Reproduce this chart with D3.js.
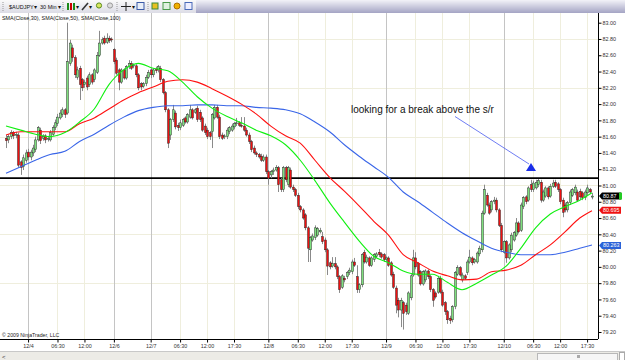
<!DOCTYPE html>
<html>
<head>
<meta charset="utf-8">
<script src="https://cdn.jsdelivr.net/npm/d3@7"></script>
<style>
  html, body { margin: 0; padding: 0; background: #fff; }
  svg { display: block; font-family: "Liberation Sans", Arial, sans-serif; }
</style>
</head>
<body>
<main></main>
<script>
//AUDJPY 30 min candles, 12/3 evening to 12/10 evening (bar index 0..239)
const opens = [81.58,81.56,81.60,81.65,81.62,81.62,81.29,81.23,81.31,81.41, 81.35,81.40,81.44,81.56,81.68,81.58,81.61,81.57,81.56,81.63,
  81.71,81.76,81.83,81.87,81.93,81.89,82.50,82.69,82.57,82.33, 82.44,82.30,82.24,82.32,82.24,82.36,82.30,82.39,82.60,82.75,
  82.81,82.76,82.81,82.80,82.67,82.54,82.42,82.27,82.42,82.32, 82.46,82.50,82.47,82.47,82.36,82.25,82.22,82.25,82.33,82.42,
  82.36,82.43,82.42,82.44,82.30,82.14,81.93,81.62,81.81,81.89, 81.74,81.71,81.74,81.83,81.78,81.84,81.93,81.90,81.95,81.90,
  81.83,81.73,81.68,81.65,81.66,81.83,81.96,81.84,81.62,81.60, 81.60,81.66,81.68,81.72,81.76,81.77,81.74,81.73,81.68,81.62,
  81.54,81.46,81.40,81.38,81.36,81.31,81.35,81.17,81.13,81.17, 81.19,81.22,81.07,80.95,81.22,81.01,81.19,80.98,80.95,80.88,
  80.74,80.70,80.64,80.48,80.21,80.33,80.36,80.39,80.43,80.37, 80.33,80.21,80.05,80.01,80.04,80.00,79.88,79.75,79.86,79.88,
  79.93,79.94,80.06,79.88,79.72,79.78,80.18,80.06,80.11,80.02, 80.09,80.13,80.18,80.16,80.15,80.09,80.11,80.05,79.91,79.74,
  79.59,79.47,79.56,79.53,79.43,79.62,79.90,80.11,80.04,79.94, 79.79,79.84,79.95,79.88,79.72,79.68,79.69,79.86,79.69,79.56,
  79.45,79.37,79.35,79.51,79.91,79.99,79.84,79.89,79.93,80.06, 80.11,80.06,80.06,80.16,80.21,80.66,80.88,80.76,80.70,80.80,
  80.82,80.70,80.51,80.18,80.31,80.11,80.21,80.33,80.39,80.54, 80.45,80.74,80.86,80.82,81.01,80.95,80.97,81.01,81.04,80.82,
  80.87,80.97,80.87,80.99,81.04,81.02,80.95,80.82,80.76,80.70, 80.79,80.88,80.91,80.92,80.93,80.91,80.85,80.91,80.95,80.86];

const closes = [81.55,81.60,81.65,81.61,81.63,81.25,81.22,81.34,81.40,81.35, 81.41,81.46,81.56,81.71,81.55,81.60,81.56,81.58,81.65,81.71,
  81.77,81.84,81.89,81.93,81.87,82.52,82.75,82.57,82.36,82.42, 82.24,82.20,82.27,82.21,82.36,82.27,82.42,82.60,82.75,82.79,
  82.75,82.81,82.78,82.79,82.52,82.38,82.27,82.42,82.32,82.46, 82.50,82.44,82.48,82.36,82.20,82.21,82.25,82.33,82.39,82.36,
  82.42,82.41,82.46,82.30,82.14,81.93,81.52,81.81,81.93,81.72, 81.71,81.77,81.81,81.78,81.87,81.93,81.83,81.93,81.81,81.81,
  81.68,81.65,81.60,81.60,81.87,81.96,81.84,81.60,81.58,81.61, 81.68,81.71,81.73,81.76,81.77,81.74,81.73,81.68,81.62,81.54,
  81.44,81.40,81.38,81.35,81.31,81.35,81.17,81.09,81.17,81.19, 81.22,81.01,80.95,81.22,81.07,81.22,80.98,80.95,80.88,80.74,
  80.70,80.60,80.48,80.23,80.36,80.38,80.48,80.47,80.45,80.31, 80.21,80.01,80.00,80.04,80.00,79.88,79.72,79.89,79.84,79.93,
  79.96,80.06,80.02,79.72,79.78,80.15,80.06,80.12,80.02,80.11, 80.15,80.16,80.15,80.12,80.09,80.11,80.02,79.90,79.75,79.53,
  79.47,79.59,79.43,79.45,79.68,79.89,80.11,80.00,79.90,79.79, 79.94,79.95,79.88,79.72,79.59,79.63,79.86,79.69,79.53,79.45,
  79.35,79.34,79.51,79.93,79.99,79.90,79.90,79.86,80.06,80.12, 80.05,80.09,80.17,80.23,80.66,80.95,80.76,80.66,80.80,80.82,
  80.70,80.51,80.21,80.31,80.11,80.27,80.39,80.42,80.54,80.43, 80.76,80.85,80.80,80.97,80.95,81.03,81.04,81.06,80.82,80.92,
  80.97,80.86,80.99,81.03,80.99,80.95,80.80,80.67,80.70,80.79, 80.92,80.95,80.98,80.82,80.86,80.85,80.92,80.97,80.92,80.87];

const highs = [81.62,81.63,81.68,81.67,81.66,81.65,81.31,81.38,81.44,81.45, 81.44,81.50,81.60,81.73,81.71,81.63,81.63,81.61,81.68,81.74,
  81.81,81.88,81.93,81.96,81.95,83.00,82.79,82.73,82.60,82.46, 82.47,82.32,82.30,82.35,82.39,82.38,82.44,82.64,82.90,82.82,
  82.84,82.87,82.84,82.82,82.69,82.57,82.44,82.44,82.44,82.48, 82.54,82.53,82.50,82.49,82.38,82.27,82.27,82.36,82.42,82.44,
  82.44,82.46,82.48,82.47,82.32,82.16,81.95,81.83,81.99,81.92, 81.77,81.81,81.83,81.85,81.89,81.99,81.95,81.95,81.98,81.93,
  81.85,81.76,81.71,81.67,81.89,81.99,81.99,81.87,81.65,81.63, 81.71,81.73,81.76,81.78,81.83,81.79,81.84,81.84,81.71,81.65,
  81.56,81.49,81.42,81.40,81.39,81.38,81.38,81.19,81.19,81.22, 81.25,81.24,81.09,81.24,81.24,81.24,81.22,81.01,80.97,80.91,
  80.76,80.72,80.66,80.50,80.38,80.41,80.51,80.49,80.48,80.43, 80.36,80.23,80.07,80.12,80.12,80.02,79.90,79.91,79.89,79.95,
  79.99,80.09,80.11,80.02,79.80,80.17,80.21,80.15,80.13,80.13, 80.17,80.18,80.22,80.18,80.17,80.13,80.13,80.07,79.94,79.77,
  79.62,79.62,79.58,79.56,79.70,79.91,80.21,80.18,80.06,79.96, 79.96,79.97,79.97,79.90,79.74,79.70,79.89,79.89,79.72,79.58,
  79.47,79.40,79.53,79.95,80.02,80.01,79.93,79.91,80.09,80.21, 80.13,80.11,80.19,80.26,80.69,81.01,80.91,80.79,80.82,80.86,
  80.85,80.72,80.54,80.33,80.33,80.29,80.42,80.44,80.60,80.56, 80.79,80.87,80.88,80.99,81.07,81.06,81.07,81.08,81.07,80.95,
  80.99,80.99,81.02,81.07,81.07,81.04,80.97,80.85,80.79,80.81, 80.95,80.97,81.01,80.95,80.96,80.93,80.95,81.01,80.97,80.91];

const lows = [81.46,81.52,81.57,81.57,81.58,81.22,81.13,81.19,81.28,81.31, 81.31,81.36,81.41,81.54,81.51,81.55,81.52,81.54,81.54,81.61,
  81.68,81.73,81.81,81.84,81.83,81.87,82.47,82.52,82.32,82.30, 82.05,82.16,82.20,82.17,82.21,82.24,82.27,82.37,82.58,82.73,
  82.73,82.74,82.75,82.76,82.49,82.36,82.17,82.25,82.30,82.30, 82.43,82.42,82.44,82.33,82.17,82.17,82.20,82.22,82.31,82.32,
  82.33,82.38,82.39,82.27,82.12,81.90,81.46,81.56,81.78,81.69, 81.67,81.68,81.72,81.76,81.76,81.82,81.81,81.88,81.78,81.78,
  81.66,81.62,81.57,81.56,81.46,81.81,81.82,81.57,81.56,81.57, 81.57,81.63,81.66,81.69,81.73,81.72,81.71,81.66,81.60,81.51,
  81.41,81.38,81.35,81.33,81.29,81.29,81.14,81.01,81.09,81.13, 81.17,80.92,80.92,80.92,81.04,80.98,80.96,80.92,80.86,80.71,
  80.67,80.58,80.45,80.06,80.06,80.31,80.33,80.37,80.41,80.28, 80.18,79.90,79.97,79.99,79.97,79.85,79.68,79.73,79.81,79.85,
  79.90,79.91,80.00,79.68,79.68,79.75,80.04,80.04,80.00,80.00, 80.06,80.11,80.12,80.10,80.06,80.06,80.00,79.88,79.73,79.43,
  79.38,79.26,79.23,79.41,79.41,79.59,79.88,79.97,79.88,79.77, 79.77,79.81,79.85,79.69,79.51,79.61,79.67,79.67,79.51,79.41,
  79.30,79.30,79.32,79.48,79.89,79.88,79.81,79.84,79.90,80.04, 80.02,80.04,80.04,80.13,80.18,80.64,80.74,80.64,80.67,80.77,
  80.67,80.49,80.18,80.16,80.05,80.09,80.18,80.31,80.37,80.41, 80.43,80.71,80.77,80.80,80.92,80.92,80.95,80.98,80.79,80.80,
  80.85,80.83,80.85,80.97,80.97,80.92,80.77,80.61,80.67,80.67, 80.76,80.86,80.88,80.80,80.83,80.82,80.82,80.88,80.90,80.83];

//SMA readings, one every 6 bars plus the last bar
const smaIdx = [0,6,12,18,24,30,36,42,48,54, 60,66,72,78,84,90,96,102,108,114,
  120,126,132,138,144,150,156,162,168,174, 180,186,192,198,204,210,216,222,228,234, 239];
const sma30 = [81.73,81.68,81.63,81.60,81.65,81.78,81.94,82.24,82.42,82.50, 82.44,82.41,82.27,82.09,81.95,81.85,81.77,81.68,81.61,81.50,
  81.31,81.06,80.79,80.55,80.32,80.13,80.05,79.95,79.91,79.91, 79.81,79.72,79.80,79.90,80.01,80.23,80.48,80.65,80.74,80.82, 80.91];
const sma50 = [81.62,81.66,81.66,81.66,81.66,81.76,81.83,81.94,82.05,82.14, 82.21,82.28,82.30,82.27,82.19,82.10,82.00,81.88,81.73,81.61,
  81.52,81.31,81.10,80.93,80.75,80.56,80.39,80.15,80.05,79.95, 79.89,79.84,79.85,79.94,79.96,80.02,80.15,80.27,80.43,80.60, 80.69];
const sma100 = [81.15,81.23,81.31,81.38,81.42,81.54,81.63,81.74,81.84,81.92, 81.96,81.98,81.98,81.99,81.99,81.98,81.98,81.96,81.95,81.93,
  81.88,81.78,81.66,81.50,81.36,81.23,81.10,80.92,80.80,80.67, 80.54,80.42,80.32,80.23,80.18,80.15,80.15,80.15,80.18,80.23, 80.27];

//Axis ticks
const priceTicks = [83.00,82.80,82.60,82.40,82.20,82.00,81.80,81.60,81.40,81.20,81.00,80.80,80.60,80.40,80.20,80.00,79.80,79.60,79.40,79.20];
const gridPrices = [82.80,82.20,81.60,81.00,80.40,79.80];
const timeIdx = [9,21,32,44,59,71,82,93,107,119,130,141,155,167,178,189,203,215,226,237];
const timeLabels = ["12/4","06:30","12:00","12/6","12/7","06:30","12:00","17:30","12/8","06:30","12:00","17:30","12/9","06:30","12:00","17:30","12/10","06:30","12:00","17:30"];

//Support / resistance and last values
const srLevel = 81.09;
const markerValues = [80.87, 80.695, 80.263];
const markerLabels = ["80.87", "80.695", "80.263"];
const markerColors = ["#000000", "#ee1111", "#2a62d8"];

document.addEventListener('DOMContentLoaded', function(){

    //Parameters
    const w = 625;
    const h = 360;
    const plotRight = 598;
    const plotTop = 13;
    const plotBottom = 339;

    const svg = d3.select("main")
        .append("svg")
        .attr("width", w)
        .attr("height", h);

    //Scales
    const x = d3.scaleLinear().domain([0, closes.length - 1]).range([6, 592]);
    const y = d3.scaleLinear().domain([79.20, 83.00]).range([332, 22.7]);

    //Toolbar
    const defs = svg.append("defs");
    const tb = defs.append("linearGradient").attr("id", "tb").attr("x1", 0).attr("y1", 0).attr("x2", 0).attr("y2", 1);
    tb.append("stop").attr("offset", "0%").attr("stop-color", "#fafafa");
    tb.append("stop").attr("offset", "100%").attr("stop-color", "#dcdce6");
    const tb2 = defs.append("linearGradient").attr("id", "tb2").attr("x1", 0).attr("y1", 0).attr("x2", 0).attr("y2", 1);
    tb2.append("stop").attr("offset", "0%").attr("stop-color", "#f2f2f8");
    tb2.append("stop").attr("offset", "100%").attr("stop-color", "#a4a4c4");

    svg.append("rect").attr("x", 0).attr("y", 0).attr("width", w).attr("height", plotTop).attr("fill", "url(#tb2)");
    svg.append("rect").attr("x", 0).attr("y", 0).attr("width", 196).attr("height", plotTop).attr("fill", "url(#tb)");

    const bar = svg.append("g").attr("font-size", 5.5).attr("fill", "#111");
    bar.append("text").attr("x", 9).attr("y", 8.5).text("$AUDJPY");
    bar.append("text").attr("x", 34).attr("y", 8.5).text("▾");
    bar.append("text").attr("x", 40).attr("y", 8.5).text("30 Min");
    bar.append("text").attr("x", 58).attr("y", 8.5).text("▾");
    [3, 63, 117, 148].forEach(sx => {
        bar.append("line").attr("x1", sx).attr("x2", sx).attr("y1", 2).attr("y2", 11)
           .attr("stroke", "#999").attr("stroke-dasharray", "1,1");
    });
    //bar chart icon
    [[67, "#1a8a1a"], [70, "#c00"], [73, "#1a8a1a"]].forEach(b => {
        bar.append("rect").attr("x", b[0]).attr("y", 3).attr("width", 2).attr("height", 7).attr("fill", b[1]);
    });
    bar.append("text").attr("x", 76).attr("y", 8.5).text("▾");
    //pencil
    bar.append("line").attr("x1", 82).attr("y1", 10).attr("x2", 88).attr("y2", 3).attr("stroke", "#333").attr("stroke-width", 1.6);
    bar.append("text").attr("x", 89).attr("y", 8.5).text("▾");
    //zoom
    bar.append("circle").attr("cx", 99).attr("cy", 5.5).attr("r", 2.6).attr("fill", "#d8e860").attr("stroke", "#5a8a20");
    bar.append("circle").attr("cx", 110).attr("cy", 5.5).attr("r", 2.6).attr("fill", "#ddd").attr("stroke", "#999");
    //crosshair
    bar.append("path").attr("d", "M121,6.5H131M126,2V11").attr("stroke", "#222");
    bar.append("text").attr("x", 132).attr("y", 8.5).text("▾");
    bar.append("rect").attr("x", 137).attr("y", 2.5).attr("width", 7).attr("height", 7).attr("fill", "#e8eef8").attr("stroke", "#3a5aa8");
    bar.append("rect").attr("x", 152).attr("y", 3).attr("width", 6).attr("height", 6).attr("fill", "#e8c020").attr("stroke", "#3a8a3a");
    bar.append("rect").attr("x", 163).attr("y", 2.5).attr("width", 7).attr("height", 7).attr("fill", "#dff0df").attr("stroke", "#4a9a4a");
    bar.append("circle").attr("cx", 177).attr("cy", 6).attr("r", 3).attr("fill", "#f0b000").attr("stroke", "#b07000");
    bar.append("rect").attr("x", 185).attr("y", 2.5).attr("width", 7).attr("height", 7).attr("fill", "#eef").attr("stroke", "#4a6ab8");

    //Chart background
    svg.append("rect").attr("x", 0).attr("y", plotTop).attr("width", w).attr("height", h - plotTop).attr("fill", "#fff");

    //Grid
    const grid = svg.append("g");
    grid.selectAll("line.hg")
        .data(gridPrices)
        .enter()
        .append("line")
        .attr("x1", 0).attr("x2", plotRight)
        .attr("y1", d => Math.round(y(d)) + 0.5).attr("y2", d => Math.round(y(d)) + 0.5)
        .attr("stroke", "#efeedd");
    grid.selectAll("line.vg")
        .data(timeIdx)
        .enter()
        .append("line")
        .attr("x1", d => Math.round(x(d)) + 0.5).attr("x2", d => Math.round(x(d)) + 0.5)
        .attr("y1", plotTop).attr("y2", plotBottom)
        .attr("stroke", (d, i) => timeLabels[i].includes("/") ? "#c4c4c4" : "#efeedd");

    //Support / resistance line
    svg.append("line")
       .attr("x1", 0).attr("x2", plotRight)
       .attr("y1", y(srLevel)).attr("y2", y(srLevel))
       .attr("stroke", "#000").attr("stroke-width", 1.8);

    //Candles
    const bars = d3.range(closes.length);
    const candles = svg.append("g");
    candles.selectAll("line.wick")
        .data(bars)
        .enter()
        .append("line")
        .attr("x1", i => Math.round(x(i)) + 0.5).attr("x2", i => Math.round(x(i)) + 0.5)
        .attr("y1", i => y(highs[i])).attr("y2", i => y(lows[i]))
        .attr("stroke", "#8a8a8a");
    candles.selectAll("rect.body")
        .data(bars)
        .enter()
        .append("rect")
        .attr("x", i => Math.round(x(i)) - 0.5)
        .attr("width", 2)
        .attr("y", i => y(Math.max(opens[i], closes[i])))
        .attr("height", i => Math.max(1, Math.abs(y(opens[i]) - y(closes[i]))))
        .attr("fill", i => closes[i] >= opens[i] ? "#7ee07e" : "#ee1010")
        .attr("stroke", "#222")
        .attr("stroke-width", 0.45);

    //Moving averages
    const smaLine = vals => d3.line()
        .x((d, k) => x(smaIdx[k]))
        .y(d => y(d))
        .curve(d3.curveMonotoneX)(vals);
    [[sma100, "#3a66e8"], [sma50, "#ff1010"], [sma30, "#10f010"]].forEach(s => {
        svg.append("path")
           .attr("d", smaLine(s[0]))
           .attr("fill", "none")
           .attr("stroke", s[1])
           .attr("stroke-width", 1.1);
    });

    //Indicator title
    svg.append("text")
       .attr("x", 2).attr("y", 19.5)
       .attr("font-size", 5.4)
       .attr("fill", "#111")
       .text("SMA(Close,30), SMA(Close,50), SMA(Close,100)");

    //Right axis
    const yAxis = d3.axisRight(y)
        .tickValues(priceTicks)
        .tickSize(3)
        .tickFormat(d3.format(".2f"));
    const ya = svg.append("g")
        .attr("transform", "translate(" + (plotRight + 0.5) + ",0)")
        .call(yAxis);
    ya.select(".domain").attr("d", "M0," + plotTop + "V" + plotBottom).attr("stroke", "#000");
    ya.selectAll("text").attr("font-size", 5.4).attr("fill", "#333").attr("x", 4).attr("font-family", "Liberation Sans, Arial");

    //Bottom axis
    const xAxis = d3.axisBottom(x)
        .tickValues(timeIdx)
        .tickSize(3)
        .tickFormat((d, i) => timeLabels[i]);
    const xa = svg.append("g")
        .attr("transform", "translate(0," + (plotBottom + 0.5) + ")")
        .call(xAxis);
    xa.select(".domain").attr("d", "M0,0H" + plotRight).attr("stroke", "#000");
    xa.selectAll("text").attr("font-size", 5.4).attr("fill", "#333").attr("y", 5).attr("font-family", "Liberation Sans, Arial");

    //Copyright
    svg.append("text")
       .attr("x", 2).attr("y", 337)
       .attr("font-size", 5.2)
       .attr("fill", "#222")
       .text("© 2009 NinjaTrader, LLC");

    //Price markers
    const markers = svg.append("g");
    markerValues.forEach((v, k) => {
        const my = y(v);
        markers.append("path")
            .attr("d", "M599," + my + "L602," + (my - 3.5) + "H621V" + (my + 3.5) + "H602Z")
            .attr("fill", markerColors[k]);
        if (k === 0) {
            markers.append("rect").attr("x", 619).attr("y", my - 3.5).attr("width", 3).attr("height", 7).attr("fill", "#22cc22");
        }
        markers.append("text")
            .attr("x", 603).attr("y", my + 2)
            .attr("font-size", 5.4)
            .attr("fill", "#fff")
            .text(markerLabels[k]);
    });

    //Annotation
    svg.append("text")
       .attr("x", 351).attr("y", 113)
       .attr("font-size", 10)
       .attr("fill", "#111")
       .text("looking for a break above the s/r");
    svg.append("line")
       .attr("x1", 455).attr("y1", 116.5)
       .attr("x2", 529).attr("y2", 164)
       .attr("stroke", "#4a5cf0").attr("stroke-width", 0.8);
    svg.append("path")
       .attr("d", "M531,163L536,171H526Z")
       .attr("fill", "#1a2ee8");

    //Scroll bar
    svg.append("rect").attr("x", 0).attr("y", 351).attr("width", w).attr("height", 9).attr("fill", "#ecebe6");
    svg.append("line").attr("x1", 0).attr("x2", w).attr("y1", 351.5).attr("y2", 351.5).attr("stroke", "#c8c8c8");
    svg.append("text").attr("x", 2).attr("y", 358.5).attr("font-size", 6).attr("fill", "#333").text("<");
    svg.append("rect").attr("x", 537.5).attr("y", 353.5).attr("width", 80).attr("height", 7).attr("fill", "#f6f6f6").attr("stroke", "#b8b8b8");
    svg.append("rect").attr("x", 577).attr("y", 355).attr("width", 3).attr("height", 3).attr("fill", "#aaa");
    svg.append("rect").attr("x", 619.5).attr("y", 352.5).attr("width", 5).attr("height", 8).attr("fill", "#fff").attr("stroke", "#aaa");
});
</script>
</body>
</html>
